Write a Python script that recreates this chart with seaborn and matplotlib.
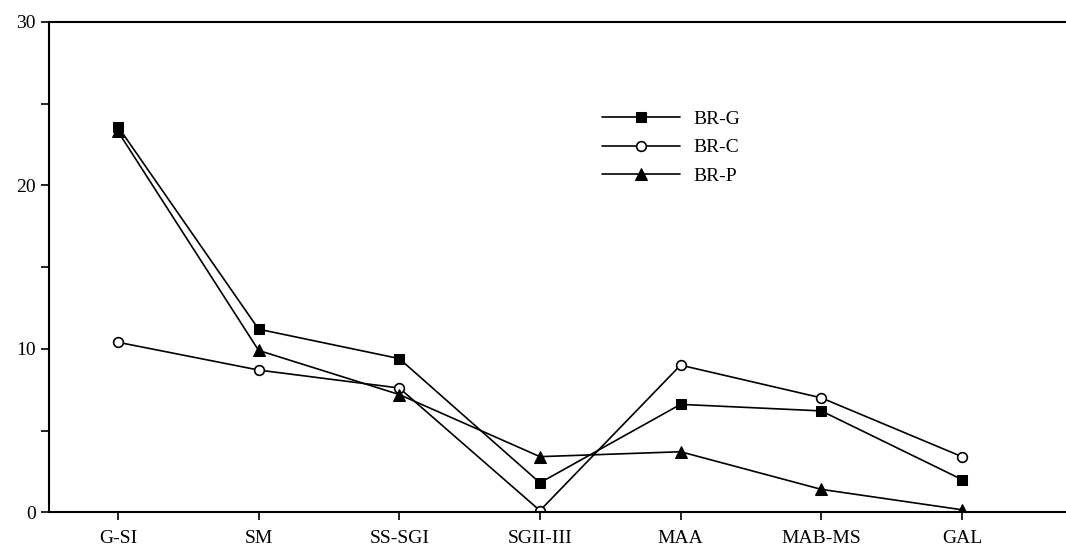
import matplotlib
matplotlib.use("Agg")
import matplotlib.pyplot as plt
import seaborn as sns
import pandas as pd

categories = ["G-SI", "SM", "SS-SGI", "SGII-III", "MAA", "MAB-MS", "GAL"]
br_g = [23.6, 11.2, 9.4, 1.8, 6.6, 6.2, 2.0]
br_c = [10.4, 8.7, 7.6, 0.1, 9.0, 7.0, 3.4]
br_p = [23.3, 9.9, 7.2, 3.4, 3.7, 1.4, 0.15]
series_names = ["BR-G", "BR-C", "BR-P"]

sns.set_theme(style="white")
plt.rcParams['font.family'] = ['Liberation Serif', 'DejaVu Serif']

fig = plt.figure(figsize=(10.66, 5.49), dpi=100)
ax = fig.add_axes([0.046, 0.067, 0.954, 0.893])

styles = {
    "BR-G": dict(marker="s", markerfacecolor="black", markeredgecolor="black", markersize=7),
    "BR-C": dict(marker="o", markerfacecolor="white", markeredgecolor="black", markersize=7, markeredgewidth=1.2),
    "BR-P": dict(marker="^", markerfacecolor="black", markeredgecolor="black", markersize=8),
}
data = {"BR-G": br_g, "BR-C": br_c, "BR-P": br_p}
xpos = list(range(len(categories)))
for name in series_names:
    df = pd.DataFrame({"x": xpos, "y": data[name]})
    sns.lineplot(data=df, x="x", y="y", ax=ax, color="black", linewidth=1.2,
                 label=name, **styles[name])

ax.set_xlim(-0.49, 6.74)
ax.set_ylim(0, 30)
ax.set_xticks(xpos)
ax.set_xticklabels(categories)
ax.set_yticks([0, 5, 10, 15, 20, 25, 30])
ax.set_yticklabels(["0", "", "10", "", "20", "", "30"])
ax.set_xlabel("")
ax.set_ylabel("")
ax.tick_params(axis="both", direction="out", length=6, width=1.2, color="black",
               labelsize=14, bottom=True, left=True, labelcolor="black")
ax.tick_params(axis="x", pad=7)
for s in ["left", "top", "bottom"]:
    ax.spines[s].set_visible(True)
    ax.spines[s].set_color("black")
    ax.spines[s].set_linewidth(1.5)
ax.spines["right"].set_visible(False)

leg = ax.legend(loc="upper left", bbox_to_anchor=(0.527, 0.855), frameon=False,
                fontsize=14, handlelength=4.0, handletextpad=0.7, labelspacing=0.55)
for t in leg.get_texts():
    t.set_color("black")

fig.savefig("out.png", dpi=100)
